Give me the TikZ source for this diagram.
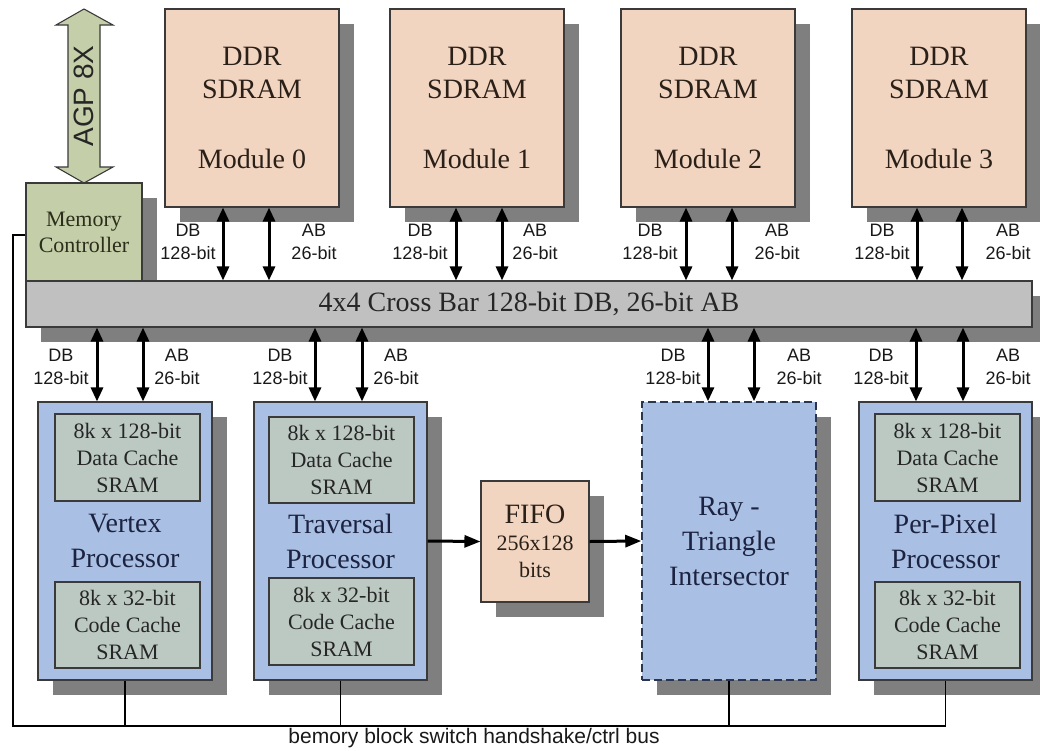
\documentclass[tikz,border=0pt]{standalone}
\usepackage{fontspec}
\setmainfont{Liberation Serif}
\setsansfont{Liberation Sans}
\usetikzlibrary{shadows,arrows.meta}

\definecolor{peach}{HTML}{F2D5C1}
\definecolor{procblue}{HTML}{A9BFE4}
\definecolor{cachegray}{HTML}{BCC9C2}
\definecolor{ctrlgreen}{HTML}{C4CEA8}
\definecolor{barfill}{HTML}{C0C0C0}
\definecolor{shade}{HTML}{7F7F7F}
\definecolor{edge}{HTML}{3A3A3A}
\definecolor{navytext}{HTML}{1C2340}
\definecolor{browntext}{HTML}{2A2018}
\definecolor{olivetext}{HTML}{2B2E1A}
\definecolor{dashedge}{HTML}{2A3550}

\tikzset{
  shadowed/.style={drop shadow={shadow xshift=14.5pt,shadow yshift=-14.5pt,fill=shade,opacity=1}},
  box/.style={draw=edge,line width=1.1pt,inner sep=0pt,align=center},
  membox/.style={box,shadowed,fill=peach,text=browntext,minimum width=174pt,minimum height=198pt,
    font=\fontsize{28}{33}\selectfont},
  ctrlbox/.style={box,shadowed,fill=ctrlgreen,text=olivetext,minimum width=116pt,minimum height=98pt,
    font=\fontsize{22}{26}\selectfont},
  barbox/.style={box,shadowed,fill=barfill,text=black!85,minimum width=1006pt,minimum height=46pt,
    font=\fontsize{28}{33}\selectfont},
  procbox/.style={box,shadowed,fill=procblue,text=navytext,minimum width=174pt,minimum height=278pt,
    font=\fontsize{28}{35}\selectfont},
  raybox/.style={procbox,draw=dashedge,line width=1.5pt,dash pattern=on 8pt off 4pt},
  cachebox/.style={box,fill=cachegray,text=black!85,minimum width=145pt,minimum height=87pt,
    font=\fontsize{22}{27}\selectfont},
  fifobox/.style={box,shadowed,fill=peach,text=browntext,minimum width=108pt,minimum height=121pt,
    font=\fontsize{22}{27}\selectfont},
  lbl/.style={font=\sffamily\fontsize{18}{23}\selectfont,align=center,inner sep=1.5pt,text=black!90},
  bidir/.style={line width=3pt,{Triangle[length=14pt,width=12pt]}-{Triangle[length=14pt,width=12pt]}},
  onedir/.style={line width=3pt,-{Triangle[length=16pt,width=12pt]}},
  bus/.style={line width=1.6pt,draw=black},
}

\begin{document}
\begin{tikzpicture}[x=1pt,y=-1pt]
\useasboundingbox[fill=white] (0,0) rectangle (1040,750);

% memory controller and the AGP port above it
\node[ctrlbox] (mc) at (84,232) {Memory\\Controller};
\draw[draw=edge,line width=1.1pt,fill=ctrlgreen]
  (84,9) -- (113,25) -- (100,25) -- (100,167) -- (113,167) -- (84,183)
  -- (56,167) -- (68,167) -- (68,25) -- (56,25) -- cycle;
\node[font=\sffamily\fontsize{28}{30}\selectfont,rotate=90,text=black!85] (agp) at (84,96) {AGP 8X};

% DDR modules
\node[membox] (m0) at (252,108) {DDR\\SDRAM\\[37pt]Module 0};
\node[membox] (m1) at (477,108) {DDR\\SDRAM\\[37pt]Module 1};
\node[membox] (m2) at (708,108) {DDR\\SDRAM\\[37pt]Module 2};
\node[membox] (m3) at (939,108) {DDR\\SDRAM\\[37pt]Module 3};

% cross bar
\node[barbox] (xb) at (529,304) {4x4 Cross Bar 128-bit DB, 26-bit AB};

% processing units
\node[procbox] (vp) at (125,541) {Vertex\\Processor};
\node[procbox,minimum width=173pt] (tp) at (340.5,541) {Traversal\\Processor};
\node[raybox] (rt) at (729,541) {Ray -\\Triangle\\Intersector};
\node[procbox,minimum width=173pt] (pp) at (945.5,541) {Per-Pixel\\Processor};

% caches
\node[cachebox] (vpd) at (127.5,457.5) {8k x 128-bit\\Data Cache\\SRAM};
\node[cachebox,minimum height=86pt] (vpc) at (127.5,625) {8k x 32-bit\\Code Cache\\SRAM};
\node[cachebox,minimum height=86pt] (tpd) at (341.5,460) {8k x 128-bit\\Data Cache\\SRAM};
\node[cachebox] (tpc) at (341.5,621.5) {8k x 32-bit\\Code Cache\\SRAM};
\node[cachebox] (ppd) at (947.5,457.5) {8k x 128-bit\\Data Cache\\SRAM};
\node[cachebox,minimum height=86pt] (ppc) at (947.5,625) {8k x 32-bit\\Code Cache\\SRAM};

% FIFO
\node[fifobox] (fifo) at (535,541.5) {{\fontsize{28}{32}\selectfont FIFO}\\256x128\\bits};

% bus labels, top row
\node[lbl] (l0d) at (188,241.5) {DB\\128-bit};
\node[lbl,fill=white] (l0a) at (314,241.5) {AB\\26-bit};
\node[lbl] (l1d) at (420,241.5) {DB\\128-bit};
\node[lbl,fill=white] (l1a) at (535,241.5) {AB\\26-bit};
\node[lbl] (l2d) at (650,241.5) {DB\\128-bit};
\node[lbl,fill=white] (l2a) at (777,241.5) {AB\\26-bit};
\node[lbl] (l3d) at (882,241.5) {DB\\128-bit};
\node[lbl,fill=white] (l3a) at (1008,241.5) {AB\\26-bit};

% bus labels, bottom row
\node[lbl] (lvd) at (61,366.5) {DB\\128-bit};
\node[lbl] (lva) at (177,366.5) {AB\\26-bit};
\node[lbl] (ltd) at (280,366.5) {DB\\128-bit};
\node[lbl] (lta) at (396,366.5) {AB\\26-bit};
\node[lbl] (lrd) at (673,366.5) {DB\\128-bit};
\node[lbl] (lra) at (799,366.5) {AB\\26-bit};
\node[lbl] (lpd) at (881,366.5) {DB\\128-bit};
\node[lbl] (lpa) at (1008,366.5) {AB\\26-bit};

% module <-> cross bar
\draw[bidir] ([xshift=-29pt]m0.south) -- ([xshift=-29pt]m0.south |- xb.north);
\draw[bidir] ([xshift=17pt]m0.south) -- ([xshift=17pt]m0.south |- xb.north);
\draw[bidir] ([xshift=-21pt]m1.south) -- ([xshift=-21pt]m1.south |- xb.north);
\draw[bidir] ([xshift=25pt]m1.south) -- ([xshift=25pt]m1.south |- xb.north);
\draw[bidir] ([xshift=-22pt]m2.south) -- ([xshift=-22pt]m2.south |- xb.north);
\draw[bidir] ([xshift=24pt]m2.south) -- ([xshift=24pt]m2.south |- xb.north);
\draw[bidir] ([xshift=-22pt]m3.south) -- ([xshift=-22pt]m3.south |- xb.north);
\draw[bidir] ([xshift=23pt]m3.south) -- ([xshift=23pt]m3.south |- xb.north);

% cross bar <-> processing units
\draw[bidir] ([xshift=-28pt]vp.north |- xb.south) -- ([xshift=-28pt]vp.north);
\draw[bidir] ([xshift=18pt]vp.north |- xb.south) -- ([xshift=18pt]vp.north);
\draw[bidir] ([xshift=-25.5pt]tp.north |- xb.south) -- ([xshift=-25.5pt]tp.north);
\draw[bidir] ([xshift=21.5pt]tp.north |- xb.south) -- ([xshift=21.5pt]tp.north);
\draw[bidir] ([xshift=-21pt]rt.north |- xb.south) -- ([xshift=-21pt]rt.north);
\draw[bidir] ([xshift=25pt]rt.north |- xb.south) -- ([xshift=25pt]rt.north);
\draw[bidir] ([xshift=-29.5pt]pp.north |- xb.south) -- ([xshift=-29.5pt]pp.north);
\draw[bidir] ([xshift=17.5pt]pp.north |- xb.south) -- ([xshift=17.5pt]pp.north);

% data flow through the FIFO
\draw[onedir] (tp.east) -- (fifo.west);
\draw[onedir] (fifo.east) -- (rt.west);

% handshake / control bus
\coordinate (bl) at (13,726);
\draw[bus] ([yshift=-3pt]mc.west) -| (bl) -- (pp.south |- bl) -- (pp.south);
\draw[bus] (vp.south) -- (vp.south |- bl);
\draw[bus] (tp.south) -- (tp.south |- bl);
\draw[bus] (rt.south) -- (rt.south |- bl);
\node[font=\sffamily\fontsize{21}{24}\selectfont,inner sep=0pt,text=black!90] (buslbl) at (474,738.5)
  {bemory block switch handshake/ctrl bus};
\end{tikzpicture}
\end{document}
